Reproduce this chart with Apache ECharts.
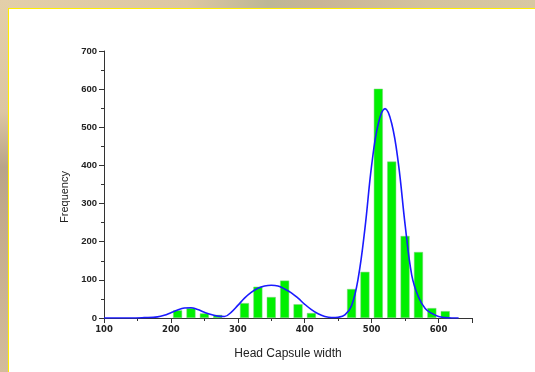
<!DOCTYPE html>
<html>
<head>
<meta charset="utf-8">
<script src="https://cdn.jsdelivr.net/npm/echarts@6/dist/echarts.min.js"></script>
<style>html,body{margin:0;padding:0;background:#fff}#c{width:535px;height:372px}</style>
</head>
<body>
<div id="c"></div>
<script>
// Histogram bins (centre of bin) and counts
var binCenters = [210, 230, 250, 270, 310, 330, 350, 370, 390, 410, 470, 490, 510, 530, 550, 570, 590, 610];
var binCounts  = [20, 26, 12, 8, 39, 82, 55, 98, 36, 13, 76, 121, 601, 410, 215, 173, 26, 18];

// Fitted curve
var curveX = [100, 120, 140, 160, 180, 190, 200, 210, 220, 230, 240, 250, 260, 270, 280, 290, 300, 310, 320, 330, 340, 350, 360, 370, 380, 390, 400, 410, 420, 430, 440, 450, 460, 470, 480, 490, 500, 510, 520, 530, 540, 550, 560, 570, 580, 590, 600, 610, 620, 630];
var curveY = [0, 0, 0, 1, 3, 7, 14, 21, 26, 27, 22, 15, 9, 5, 4, 15, 33, 52, 67, 78, 84, 86, 84, 76, 66, 52, 36, 22, 11, 4, 1, 2, 8, 32, 105, 235, 400, 510, 549, 510, 405, 245, 112, 55, 25, 12, 4, 1, 0, 0];

var xTicks = [100, 200, 300, 400, 500, 600];
var yTicks = [0, 100, 200, 300, 400, 500, 600, 700];

var chart = echarts.init(document.getElementById('c'), null, {renderer: 'canvas'});

var barData = binCenters.map(function (x, i) { return [x, binCounts[i]]; });
var lineData = curveX.map(function (x, i) { return [x, curveY[i]]; });

chart.setOption({
  backgroundColor: '#ffffff',
  animation: false,
  grid: {left: 104, right: 63, top: 51, bottom: 54},
  graphic: [
    {type: 'rect', shape: {x: 0, y: 0, width: 535, height: 8}, silent: true,
     style: {fill: new echarts.graphic.LinearGradient(0, 0, 1, 0, [
       {offset: 0, color: '#e3cfa9'}, {offset: 0.35, color: '#ddc7a2'},
       {offset: 0.5, color: '#bdb795'}, {offset: 0.6, color: '#c9b596'},
       {offset: 0.8, color: '#d4c39e'}, {offset: 1, color: '#d8c8a2'}])}},
    {type: 'rect', shape: {x: 0, y: 0, width: 8, height: 372}, silent: true,
     style: {fill: new echarts.graphic.LinearGradient(0, 0, 0, 1, [
       {offset: 0, color: '#e3cfa9'}, {offset: 0.3, color: '#dcc6a3'},
       {offset: 0.45, color: '#b9a489'}, {offset: 0.6, color: '#c4ab8c'},
       {offset: 1, color: '#d3bc9b'}])}},
    {type: 'rect', shape: {x: 8, y: 8, width: 527, height: 1}, silent: true, style: {fill: '#ffee00'}},
    {type: 'rect', shape: {x: 8, y: 8, width: 1, height: 364}, silent: true, style: {fill: '#ffee00'}}
  ],
  xAxis: {
    type: 'value', min: 100, max: 650, interval: 100,
    name: 'Head Capsule width', nameLocation: 'middle', nameGap: 30,
    nameTextStyle: {fontFamily: 'Liberation Sans', fontSize: 12, color: '#222'},
    axisLine: {lineStyle: {color: '#333', width: 1}},
    axisTick: {show: true, inside: false, length: 5, lineStyle: {color: '#333'}},
    minorTick: {show: true, splitNumber: 2, length: 3, lineStyle: {color: '#333'}},
    splitLine: {show: false},
    axisLabel: {
      margin: 7, fontFamily: 'DejaVu Sans', fontWeight: 'bold', fontSize: 8.5, color: '#222',
      formatter: function (v) { return xTicks.indexOf(v) >= 0 ? String(v) : ''; }
    }
  },
  yAxis: {
    type: 'value', min: 0, max: 700, interval: 100,
    name: 'Frequency', nameLocation: 'middle', nameGap: 33,
    nameTextStyle: {fontFamily: 'Liberation Sans', fontSize: 11, color: '#222', padding: [0, 25, 0, 0]},
    axisLine: {show: true, lineStyle: {color: '#333', width: 1}},
    axisTick: {show: true, inside: false, length: 5, lineStyle: {color: '#333'}},
    minorTick: {show: true, splitNumber: 2, length: 3, lineStyle: {color: '#333'}},
    splitLine: {show: false},
    axisLabel: {
      margin: 7, fontFamily: 'Liberation Sans', fontWeight: 'bold', fontSize: 9.5, color: '#222',
      formatter: function (v) { return yTicks.indexOf(v) >= 0 ? String(v) : ''; }
    }
  },
  series: [
    {
      type: 'bar', data: barData, barWidth: 9,
      itemStyle: {color: '#00f000', borderColor: '#7fd07f', borderWidth: 0.5}
    },
    {
      type: 'line', data: lineData, smooth: 0.4, showSymbol: false,
      lineStyle: {color: '#1a1aff', width: 1.6}, z: 5
    }
  ]
});
</script>
</body>
</html>
